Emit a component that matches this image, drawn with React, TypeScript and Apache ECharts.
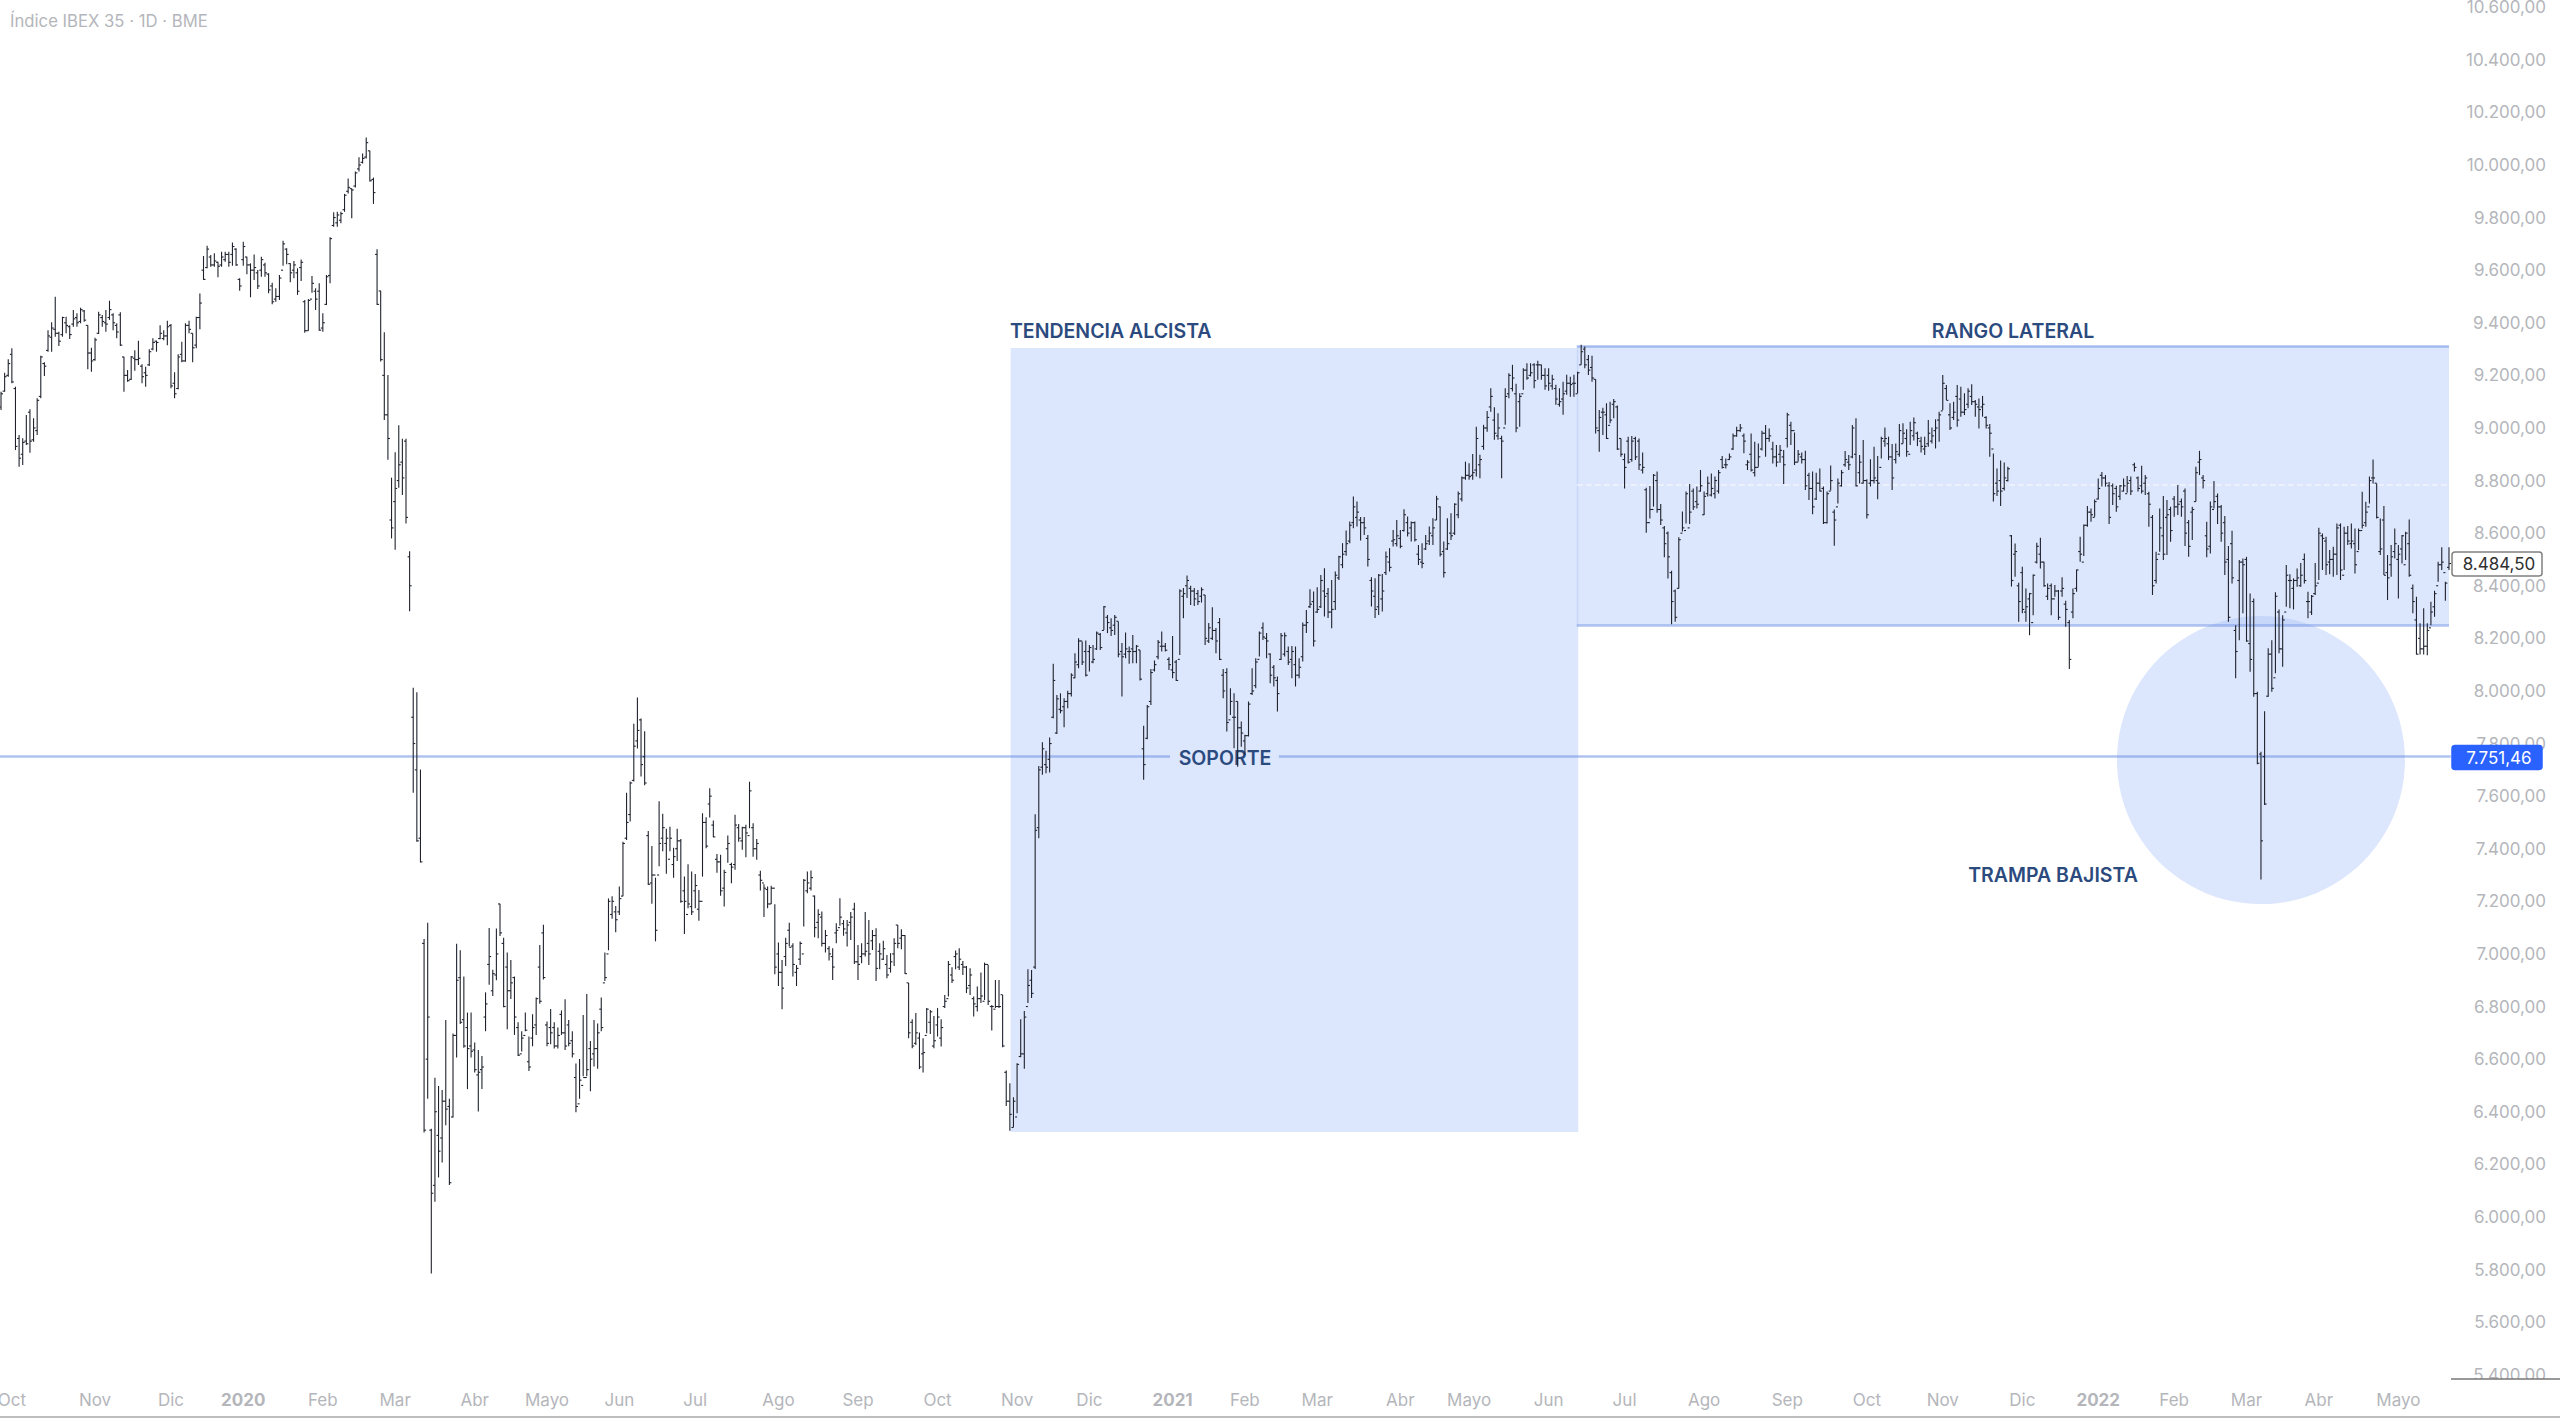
import React, { useEffect, useRef } from "react";
import * as echarts from "echarts";

// daily bars as [open, high, low, close]
const bars2019 = [
  [9080,9138,9068,9130],[9140,9210,9138,9195],[9200,9261,9195,9245],[9280,9303,9170,9175],[9150,9157,8916,8930],[8960,8973,8853,8885],[8900,8961,8859,8945],[8950,9049,8935,8940],[9060,9071,8906,8950],[8955,9037,8948,9000],
  [8990,9113,8973,9105],[9120,9275,9113,9270],[9245,9250,9198,9235],[9295,9372,9290,9350],[9345,9402,9290,9380],[9375,9499,9347,9360],[9360,9366,9312,9330],[9355,9423,9347,9420],[9400,9423,9360,9390],[9385,9391,9338,9355],
  [9395,9449,9385,9415],[9420,9436,9385,9400],[9405,9457,9398,9450],[9445,9449,9404,9410],[9390,9391,9223,9285],[9285,9305,9214,9255],[9260,9343,9256,9335],[9360,9442,9357,9430],[9420,9430,9385,9405],[9400,9449,9366,9395],
  [9420,9484,9411,9450],[9430,9436,9372,9400],[9390,9398,9341,9365],[9430,9440,9312,9315],[9270,9271,9138,9200],[9200,9220,9176,9180],[9185,9274,9182,9270],[9265,9296,9218,9260],[9260,9332,9239,9265],[9235,9242,9170,9195],
  [9210,9233,9157,9200],[9240,9299,9236,9290],[9300,9341,9296,9325],[9330,9332,9290,9325],[9340,9391,9337,9360],[9340,9372,9334,9350],[9350,9408,9315,9385],[9390,9395,9151,9160],[9170,9212,9113,9130],[9150,9280,9147,9270],
  [9280,9328,9250,9255],[9255,9398,9252,9390],[9390,9408,9360,9375],[9360,9360,9250,9305],[9315,9423,9303,9420],[9420,9511,9375,9475],[9600,9654,9563,9565],[9610,9693,9607,9680],[9650,9658,9613,9620],[9620,9664,9613,9635],
  [9630,9632,9573,9615],[9620,9670,9613,9650],[9640,9670,9632,9660],[9660,9670,9613,9630],[9660,9705,9617,9690],[9680,9683,9617,9620],[9565,9569,9522,9540],
];
const barsEarly2020 = [
  [9640,9708,9617,9690],[9650,9651,9585,9620],[9620,9626,9497,9600],[9600,9660,9563,9610],[9590,9601,9528,9540],[9600,9651,9575,9640],[9620,9628,9575,9590],[9585,9588,9512,9525],[9540,9552,9470,9480],[9490,9531,9480,9500],
  [9500,9582,9487,9570],[9600,9712,9617,9700],[9680,9683,9623,9660],[9625,9626,9554,9590],[9600,9635,9569,9620],[9590,9607,9506,9520],[9610,9641,9559,9630],[9480,9487,9362,9370],[9370,9490,9370,9485],[9490,9578,9514,9550],
  [9520,9531,9449,9490],[9520,9550,9370,9372],[9380,9436,9366,9400],[9470,9582,9468,9575],[9580,9725,9550,9720],[9770,9820,9765,9800],[9780,9822,9765,9810],[9790,9822,9778,9815],[9830,9890,9822,9885],[9900,9949,9892,9915],
  [9910,9911,9797,9905],[9920,9975,9914,9970],[9985,10029,9975,10000],[10010,10044,10006,10025],[10030,10105,10025,10085],[10054,10054,9937,9940],[9945,9952,9852,9895],[9660,9680,9468,9470],[9521,9522,9253,9260],[9200,9364,9030,9050],
  [9050,9201,8879,8960],[8650,8811,8580,8620],[8720,8908,8537,8770],[8800,9010,8773,8860],[8870,8959,8745,8810],[8950,8959,8637,8660],[8510,8531,8303,8400],[7900,8012,7613,7800],[7700,7995,7427,7430],[7440,7701,7348,7350],
  [7040,7057,6321,6330],[6600,7119,6449,6760],[6330,6335,5785,6090],[6120,6529,6058,6400],[6310,6498,6150,6250],[6300,6483,6207,6440],[6440,6749,6349,6410],[6420,6449,6121,6130],[6380,6697,6378,6690],[6690,7039,6606,6900],
  [6910,7014,6734,6740],[6750,6914,6643,6650],[6720,6777,6486,6640],[6650,6777,6606,6630],[6635,6663,6549,6560],[6540,6635,6401,6550],[6560,6612,6486,6570],[6760,6854,6706,6810],[6960,7099,6883,6990],[6860,6940,6840,6925],
  [6920,7097,6900,7000],[7190,7191,7068,7080],[7040,7062,6797,6800],[6950,7005,6714,6860],[6860,6977,6829,6890],[6910,6914,6692,6760],[6720,6740,6612,6615],[6620,6706,6629,6680],[6690,6777,6706,6710],[6590,6686,6555,6570],
  [6680,6771,6649,6720],[6730,6834,6692,6830],[6950,7034,6811,6820],[7080,7111,6903,6910],[6730,6743,6649,6660],[6720,6791,6657,6700],[6720,6740,6640,6650],[6650,6720,6640,6690],[6770,6785,6692,6700],[6700,6828,6635,6650],
  [6730,6749,6649,6660],[6670,6706,6606,6620],[6530,6583,6398,6420],[6430,6600,6449,6520],[6500,6768,6535,6530],[6530,6848,6535,6560],[6640,6669,6478,6600],[6620,6749,6572,6640],[6640,6735,6563,6700],[6790,6834,6706,6720],
  [6890,7005,6897,6910],[7000,7211,7014,7200],[7150,7219,7134,7200],[7160,7182,7082,7130],[7160,7256,7148,7210],[7220,7427,7219,7420],[7440,7613,7433,7500],[7530,7656,7504,7650],[7660,7875,7656,7790],[7810,7975,7781,7850],
  [7890,7895,7675,7720],[7750,7847,7641,7650],[7450,7467,7262,7265],[7270,7410,7191,7300],[7300,7290,7048,7090],[7300,7581,7333,7420],[7440,7533,7390,7480],[7420,7476,7305,7440],[7360,7484,7390,7440],[7340,7404,7290,7370],
  [7400,7476,7353,7430],[7430,7437,7195,7200],[7240,7294,7076,7200],[7150,7341,7174,7190],[7180,7313,7148,7160],[7240,7304,7174,7260],
];
const barsLate2020 = [
  [7170,7243,7126,7200],[7200,7535,7294,7500],[7500,7520,7402,7410],[7570,7630,7519,7600],[7490,7507,7444,7445],[7360,7380,7309,7350],[7350,7377,7221,7240],[7250,7320,7180,7310],[7400,7450,7347,7420],[7340,7347,7269,7330],
  [7340,7529,7320,7490],[7480,7494,7427,7440],[7430,7484,7396,7480],[7480,7491,7368,7460],[7450,7655,7478,7620],[7480,7497,7370,7400],[7400,7437,7358,7420],[7300,7316,7241,7280],[7270,7265,7140,7250],[7245,7256,7174,7190],
  [7190,7259,7190,7250],[7250,7189,6923,6950],[7000,7043,6878,6930],[6930,6977,6790,6870],[6990,7062,6954,7040],[7090,7119,7028,7025],[7030,7041,6914,6960],[6930,6958,6878,6945],[6980,7047,6958,7040],[7000,7285,7104,7280],
  [7240,7313,7231,7270],[7250,7317,7241,7290],[7220,7222,7063,7100],[7120,7170,7060,7150],[7140,7161,7028,7040],[7040,7091,7005,7070],[7020,7030,6975,7000],[6990,7022,6901,6950],[7080,7117,7041,7090],[7100,7212,7107,7140],
  [7115,7129,7069,7095],[7080,7129,7028,7110],[7120,7159,7053,7140],[7170,7195,6962,6970],[6970,7034,6901,6960],[6990,7041,6965,7000],[7000,7159,6990,7010],[7040,7129,6958,7000],[7050,7091,7015,7070],[7070,7098,6897,6945],
  [7010,7041,6942,7000],[6980,7050,6977,7020],[6960,6996,6908,6920],[6945,7003,6929,6970],[7000,7060,6954,7040],[7110,7110,7022,7040],[7060,7094,7018,7070],[7070,7072,6924,6925],[6890,6889,6679,6700],[6740,6752,6641,6650],
  [6660,6775,6654,6700],[6680,6701,6562,6570],[6620,6679,6549,6625],[6690,6794,6698,6790],[6740,6787,6696,6780],[6650,6764,6641,6670],[6730,6794,6686,6760],[6680,6752,6648,6720],[6800,6844,6794,6820],[6830,6973,6838,6960],
  [6920,6949,6889,6900],[6990,7013,6942,7000],[6950,7022,6939,6980],[6960,6973,6920,6950],[6950,6954,6851,6870],[6880,6946,6844,6920],[6830,6838,6762,6810],[6800,6876,6781,6830],[6830,6929,6813,6840],[6820,6967,6825,6960],
  [6960,6958,6806,6820],[6800,6806,6709,6800],[6790,6901,6794,6800],[6800,6901,6794,6800],[6845,6844,6645,6650],[6550,6557,6422,6440],[6440,6508,6328,6390],[6340,6455,6341,6440],[6380,6584,6394,6580],[6610,6752,6607,6620],
  [6620,6783,6563,6760],[6800,6942,6813,6880],[6900,6939,6832,6850],[6950,7531,6943,7470],[7480,7715,7440,7700],[7710,7805,7681,7780],[7720,7773,7687,7710],[7740,7823,7690,7800],[7900,8103,7896,8040],[7840,7985,7836,7970],
  [7930,7991,7915,7925],[7940,7972,7862,7960],[7960,8001,7934,7990],[7990,8067,7979,8060],[8050,8143,8048,8110],[8100,8200,8086,8190],[8190,8188,8099,8110],[8150,8192,8055,8060],[8150,8175,8074,8165],[8110,8175,8105,8120],
  [8160,8226,8156,8220],[8215,8220,8156,8165],[8230,8323,8232,8320],[8280,8289,8220,8260],[8240,8276,8209,8230],[8250,8289,8213,8280],[8265,8264,8128,8140],[8150,8182,7979,8130],[8140,8222,8124,8160],[8150,8169,8103,8150],
  [8160,8213,8105,8150],[8150,8175,8105,8170],[8156,8156,8040,8045],
];
const barsEarly2021 = [
  [7780,7868,7662,7720],[7820,7947,7816,7940],[7960,8083,7947,8070],[8080,8116,8074,8100],[8130,8194,8121,8185],[8170,8226,8150,8170],[8170,8182,8150,8155],[8120,8128,8080,8100],[8080,8209,8048,8070],[8110,8118,8038,8040],
  [8120,8387,8137,8380],[8360,8391,8276,8370],[8400,8439,8353,8420],[8390,8400,8327,8380],[8380,8391,8323,8350],[8370,8384,8327,8340],[8360,8394,8336,8385],[8365,8365,8175,8200],[8190,8258,8182,8240],[8200,8318,8194,8230],
  [8230,8239,8143,8190],[8260,8277,8118,8120],[8060,8083,7972,8000],[8070,8086,7846,7880],[7890,8010,7909,7960],[7900,7991,7782,7900],[7960,7960,7712,7860],[7860,7884,7788,7840],[7810,7833,7757,7830],[7830,7960,7827,7950],
  [7990,8086,7985,8000],[8020,8124,8010,8110],[8120,8226,8131,8220],[8240,8260,8194,8205],[8200,8220,8124,8190],[8140,8143,8029,8060],[8090,8099,8017,8050],[8040,8055,7922,7990],[8120,8220,8118,8210],[8140,8222,8131,8210],
  [8150,8169,8099,8110],[8120,8171,8048,8150],[8100,8169,8017,8060],[8060,8124,8048,8090],[8130,8260,8112,8250],[8250,8308,8220,8260],[8320,8387,8315,8330],[8340,8378,8169,8190],[8300,8394,8296,8310],[8320,8441,8315,8420],
  [8380,8467,8283,8360],[8370,8391,8277,8300],[8300,8422,8238,8310],[8340,8454,8308,8440],[8430,8514,8422,8510],[8480,8562,8467,8520],[8530,8610,8514,8560],[8570,8644,8562,8630],[8640,8739,8619,8700],[8660,8720,8625,8680],
  [8650,8661,8572,8640],[8640,8661,8593,8620],[8580,8593,8473,8500],[8420,8432,8321,8380],[8360,8429,8277,8310],[8320,8445,8289,8440],[8350,8445,8302,8380],[8450,8530,8441,8510],[8490,8543,8454,8470],[8570,8612,8549,8575],
  [8560,8650,8549,8590],[8580,8612,8543,8550],[8610,8691,8606,8670],[8640,8663,8587,8600],[8620,8644,8568,8640],[8640,8644,8568,8575],[8520,8555,8479,8500],[8490,8562,8467,8485],[8540,8593,8536,8560],[8570,8625,8555,8600],
  [8590,8657,8555,8620],[8650,8742,8650,8730],[8700,8701,8511,8520],[8530,8568,8431,8450],[8540,8657,8536,8560],[8600,8676,8574,8590],[8600,8714,8593,8710],[8670,8758,8657,8750],[8730,8815,8720,8810],[8810,8872,8803,8820],
  [8820,8866,8803,8815],[8820,8901,8803,8830],[8840,9005,8815,8960],[8860,8898,8809,8880],[8930,9012,8917,9000],[9000,9065,8986,9040],[9080,9151,9062,9120],[9030,9079,8955,8980],[8970,9056,8955,9000],[8960,8970,8809,8950],
  [9000,9151,9012,9120],[9130,9208,9113,9200],[9150,9240,9139,9190],[9130,9168,8984,9000],[9100,9132,9005,9120],[9130,9227,9145,9220],[9220,9246,9183,9190],[9200,9246,9196,9210],[9240,9246,9151,9180],[9240,9256,9183,9240],
  [9240,9240,9183,9200],[9200,9227,9145,9160],[9200,9227,9142,9170],[9160,9202,9145,9185],[9150,9164,9088,9110],[9090,9151,9081,9100],[9110,9176,9050,9130],[9140,9202,9126,9170],[9170,9195,9119,9165],[9170,9202,9119,9170],
  [9130,9214,9132,9210],[9240,9316,9240,9290],[9300,9310,9227,9240],[9260,9277,9201,9220],[9230,9275,9176,9190],[9185,9185,8979,9000],[8990,9068,8910,9040],[9060,9077,8973,9060],[9050,9094,8958,8960],[9010,9100,9018,9030],
  [9090,9110,9037,9100],[9080,9085,8916,8920],[8960,8960,8891,8900],[8880,8903,8770,8850],
];
const barsLate2021 = [
  [8950,8967,8865,8870],[8880,8969,8872,8950],[8960,8967,8878,8890],[8950,8960,8840,8860],[8840,8907,8827,8850],[8765,8773,8602,8640],[8640,8779,8656,8690],[8690,8825,8701,8820],[8800,8834,8678,8690],[8690,8711,8631,8650],
  [8620,8627,8508,8560],[8600,8606,8428,8510],[8450,8457,8254,8340],[8380,8386,8263,8280],[8390,8584,8390,8575],[8600,8682,8606,8620],[8610,8758,8637,8750],[8620,8787,8635,8680],[8760,8770,8688,8700],[8720,8777,8694,8710],
  [8760,8840,8758,8780],[8670,8758,8669,8740],[8750,8815,8739,8790],[8745,8827,8739,8770],[8750,8815,8732,8800],[8760,8840,8751,8830],[8880,8893,8846,8850],[8860,8884,8846,8860],[8880,8903,8878,8890],[8920,8979,8916,8970],
  [8970,9005,8967,8990],[8990,9015,8986,9000],[8970,8979,8904,8950],[8860,8878,8840,8870],[8900,8979,8834,8840],[8830,8948,8815,8850],[8850,8941,8853,8890],[8920,8989,8914,8980],[8980,9011,8891,8960],[8960,8998,8948,8970],
  [8920,8948,8865,8890],[8890,8935,8853,8870],[8900,8935,8868,8915],[8890,8916,8787,8860],[8960,9058,8926,9050],[9010,9024,8935,8990],[8990,8983,8859,8870],[8870,8916,8872,8900],[8890,8907,8865,8880],[8880,8913,8764,8780],
  [8820,8830,8726,8770],[8770,8834,8672,8700],[8730,8830,8726,8790],[8790,8846,8758,8760],[8770,8777,8635,8640],[8640,8758,8637,8750],[8760,8857,8762,8800],[8680,8690,8552,8650],[8700,8808,8713,8790],[8780,8840,8777,8830],
  [8860,8912,8853,8880],[8870,8897,8840,8860],[8890,9011,8885,9000],[8900,9037,8777,8780],[8830,8897,8789,8870],[8790,8954,8789,8800],[8800,8805,8656,8670],[8790,8881,8777,8800],[8800,8929,8789,8810],[8800,8893,8729,8790],
  [8850,8967,8884,8960],[8950,9002,8929,8960],[8940,8967,8878,8890],[8890,8939,8764,8810],[8880,8941,8865,8910],[8900,9015,8891,8990],[8940,9018,8941,8980],[8960,8995,8891,8910],[8900,9024,8935,8990],[8970,9040,8952,9020],
  [8980,8986,8931,8960],[8950,8967,8907,8930],[8920,8967,8897,8930],[8940,9030,8929,8980],[8950,9002,8941,8970],[8990,9033,8922,9000],[9030,9062,8948,9050],[9065,9201,9068,9170],[9150,9163,9106,9105],[9050,9094,8992,9000],
  [9040,9100,9030,9060],[9120,9163,9005,9030],[9110,9157,9043,9060],[9060,9132,9049,9070],[9090,9151,9075,9140],[9120,9166,9087,9100],[9100,9106,9043,9090],[9080,9112,8998,9070],[9080,9122,9043,9090],[9040,9045,8998,9010],
  [9000,9015,8891,8980],[8920,8903,8720,8750],[8790,8846,8741,8760],[8800,8876,8703,8760],[8770,8869,8762,8810],[8800,8853,8796,8845],[8590,8593,8397,8420],[8520,8561,8434,8530],[8400,8411,8263,8340],[8450,8472,8295,8310],
  [8300,8390,8263,8320],[8350,8373,8212,8370],[8260,8443,8288,8440],[8490,8564,8485,8550],[8520,8583,8466,8490],[8490,8491,8396,8400],[8360,8409,8346,8390],[8400,8409,8288,8350],[8350,8403,8358,8380],[8380,8384,8270,8280],
  [8380,8432,8358,8390],[8330,8343,8244,8310],[8260,8270,8083,8120],[8300,8390,8276,8370],[8390,8462,8377,8460],[8530,8586,8491,8520],[8490,8633,8513,8630],[8630,8703,8624,8680],[8680,8694,8643,8670],[8660,8728,8662,8720],
];
const bars2022 = [
  [8730,8808,8728,8770],[8820,8833,8777,8810],[8810,8821,8777,8790],[8780,8795,8635,8660],[8780,8789,8707,8750],[8770,8780,8681,8700],[8740,8783,8726,8780],[8760,8808,8758,8780],[8750,8817,8754,8790],[8800,8815,8745,8760],
  [8860,8868,8834,8850],[8810,8815,8758,8770],[8780,8856,8751,8760],[8790,8821,8745,8810],[8750,8757,8624,8710],[8660,8669,8365,8400],[8420,8529,8409,8500],[8520,8694,8529,8620],[8590,8741,8498,8520],[8660,8726,8517,8670],
  [8690,8700,8567,8610],[8730,8741,8662,8700],[8700,8783,8669,8710],[8720,8732,8662,8700],[8760,8770,8551,8600],[8640,8650,8510,8550],[8680,8700,8574,8690],[8720,8853,8720,8830],[8870,8913,8821,8880],[8810,8821,8770,8800],
  [8590,8643,8508,8540],[8550,8720,8523,8700],[8690,8798,8694,8720],[8740,8751,8635,8700],[8700,8707,8567,8600],[8640,8665,8441,8490],[8500,8551,8263,8280],[8560,8609,8409,8430],[8230,8250,8048,8150],[8420,8498,8193,8490],
  [8490,8504,8295,8480],[8500,8510,8187,8190],[8180,8371,8073,8120],[8340,8352,7978,7990],[7990,7997,7721,7725],[7760,7769,7283,7430],[7750,7923,7566,7570],[7980,8162,7978,8140],[8140,8193,7997,8010],[8050,8375,8067,8360],
  [8300,8310,8143,8160],[8160,8288,8092,8270],[8300,8479,8320,8440],[8420,8444,8314,8420],[8390,8428,8310,8420],[8420,8466,8396,8430],[8400,8487,8396,8440],[8500,8523,8409,8420],[8340,8377,8276,8340],[8300,8365,8289,8360],
  [8370,8487,8365,8400],[8410,8621,8422,8600],[8590,8599,8460,8580],[8570,8586,8441,8480],[8490,8536,8444,8500],[8500,8548,8434,8520],[8520,8637,8441,8620],[8630,8637,8422,8460],[8440,8624,8460,8600],[8600,8627,8555,8570],
  [8560,8637,8542,8570],[8560,8618,8447,8480],[8530,8618,8536,8610],[8610,8757,8618,8630],[8640,8719,8624,8680],[8700,8815,8713,8800],[8810,8880,8789,8810],[8790,8789,8656,8660],[8530,8656,8517,8540],[8650,8703,8441,8440],
  [8450,8517,8346,8430],[8480,8555,8434,8510],[8530,8618,8504,8560],[8500,8555,8352,8520],[8540,8593,8485,8590],[8480,8605,8498,8600],[8560,8652,8434,8440],[8390,8405,8295,8340],[8270,8358,8139,8140],[8200,8257,8139,8160],
  [8160,8314,8139,8170],[8170,8257,8136,8230],[8240,8339,8250,8300],[8320,8381,8282,8370],[8400,8491,8415,8480],[8480,8546,8460,8490],[8450,8415,8343,8410],[8470,8546,8460,8484.5],
];

const barRows = [...bars2019, ...barsEarly2020, ...barsLate2020, ...barsEarly2021, ...barsLate2021, ...bars2022];

// month labels sit on the bar where the month starts
const monthTicks = [3,26,47,67,89,109,131,151,171,192,215,237,259,281,301,324,344,364,387,406,428,449,471,494,516,537,559,580,601,621,641,663];
const monthNames = ["Oct","Nov","Dic","2020","Feb","Mar","Abr","Mayo","Jun","Jul","Ago","Sep","Oct","Nov","Dic","2021","Feb","Mar","Abr","Mayo","Jun","Jul","Ago","Sep","Oct","Nov","Dic","2022","Feb","Mar","Abr","Mayo"];

const lastPrice = 8484.5;
const supportPrice = 7751.46;
const rangeTop = 9312;
const rangeBottom = 8251;
const rangeMid = 8783;
const trendTop = 9304;
const trendBottom = 6323;
const trendFrom = 279.2;
const trendTo = 436.2;
const rangeFrom = 435.8;
const rangeTo = 677;
const supportGapFrom = 323.3;
const supportGapTo = 353.4;
const supportEnd = 677.5;
const trapBar = 625;
const trapPrice = 7737;
const xMin = -0.28;
const xMax = 707.7;

const FILL = "rgba(168,192,248,0.4)";
const RULE = "rgba(110,145,228,0.55)";
const NAVY = "#2b4a7e";
const GREY = "#b4b6bb";
const FONT = "Inter, 'Noto Sans', sans-serif";

const formatPrice = (v: number) =>
  v.toLocaleString("de-DE", { minimumFractionDigits: 2, maximumFractionDigits: 2 });

const renderBar = (_params: any, api: any) => {
  const x = api.value(0);
  const [cx, high] = api.coord([x, api.value(2)]);
  const low = api.coord([x, api.value(3)])[1];
  const open = api.coord([x, api.value(1)])[1];
  const close = api.coord([x, api.value(4)])[1];
  const style = { stroke: "#20232e", lineWidth: 1.1 };
  return {
    type: "group",
    children: [
      { type: "line", shape: { x1: cx, y1: high, x2: cx, y2: low }, style },
      { type: "line", shape: { x1: cx - 2, y1: open, x2: cx, y2: open }, style },
      { type: "line", shape: { x1: cx, y1: close, x2: cx + 2, y2: close }, style },
    ],
  };
};

const rule = (x1: number, y1: number, x2: number, y2: number, color = RULE, width = 2.5, type = "solid") => [
  { coord: [x1, y1], lineStyle: { color, width, type } },
  { coord: [x2, y2] },
];

const note = (text: string, x: number, y: number, align = "left") => ({
  type: "text",
  z: 3,
  x,
  y,
  style: { text, fill: NAVY, font: `600 19.5px ${FONT}`, textAlign: align, textVerticalAlign: "middle" },
});

const priceTag = (text: string, y: number, fill: string, stroke: string, color: string) => [
  {
    type: "rect",
    z: 20,
    shape: { x: 2452, y, width: 90, height: 24, r: 3 },
    style: { fill, stroke, lineWidth: 1.5 },
  },
  {
    type: "text",
    z: 21,
    x: 2499,
    y: y + 12,
    style: { text, fill: color, font: `17px ${FONT}`, textAlign: "center", textVerticalAlign: "middle" },
  },
];

const App = () => {
  const chartRef = useRef(null);

  useEffect(() => {
    const chartInstance = echarts.init(chartRef.current, null, { renderer: "svg" });

    chartInstance.setOption({
      animation: false,
      backgroundColor: "#ffffff",
      grid: { left: 0, right: 0, top: 7.2, bottom: 43.3, containLabel: false, outerBoundsMode: "none" },
      xAxis: {
        type: "value",
        min: xMin,
        max: xMax,
        offset: 42.3,
        splitLine: { show: false },
        axisTick: { show: false },
        axisLine: { show: true, onZero: false, lineStyle: { color: "#a9a9a9", width: 1.5 } },
        axisLabel: {
          inside: true,
          margin: 9,
          customValues: monthTicks,
          hideOverlap: false,
          color: GREY,
          fontFamily: FONT,
          fontSize: 17,
          formatter: (v: number) => {
            const name = monthNames[monthTicks.indexOf(v)];
            return /^\d+$/.test(name) ? `{year|${name}}` : name;
          },
          rich: { year: { fontFamily: FONT, fontSize: 17, fontWeight: 700, color: GREY } },
        },
      },
      yAxis: {
        type: "value",
        position: "right",
        min: 5400,
        max: 10600,
        interval: 200,
        splitLine: { show: false },
        axisTick: { show: false },
        axisLine: { show: false },
        axisLabel: {
          inside: true,
          margin: 14,
          color: GREY,
          fontFamily: FONT,
          fontSize: 17,
          padding: [0, 0, 3.4, 0],
          showMinLabel: true,
          showMaxLabel: true,
          formatter: (v: number) => formatPrice(v),
        },
      },
      graphic: [
        {
          type: "text",
          z: 3,
          x: 10,
          y: 21,
          style: { text: "Índice IBEX 35 · 1D · BME", fill: GREY, font: `16.7px ${FONT}`, textVerticalAlign: "middle" },
        },
        note("TENDENCIA ALCISTA", 1010, 331),
        note("RANGO LATERAL", 2013, 331, "center"),
        note("SOPORTE", 1225, 758, "center"),
        note("TRAMPA BAJISTA", 2053, 875, "center"),
        { type: "rect", z: 18, shape: { x: 2451, y: 1379, width: 109, height: 9 }, style: { fill: "#ffffff" } },
        { type: "line", z: 19, shape: { x1: 2451, y1: 1379, x2: 2560, y2: 1379 }, style: { stroke: "#777777", lineWidth: 1.5 } },
        ...priceTag(formatPrice(lastPrice), 552, "#ffffff", "#808080", "#303030"),
        ...priceTag(formatPrice(supportPrice), 745.5, "#2962ff", "#2962ff", "#ffffff"),
      ],
      series: [
        {
          type: "custom",
          z: 10,
          silent: true,
          clip: false,
          encode: { x: 0, y: [1, 2, 3, 4] },
          data: barRows.map((row, i) => [i, ...row]),
          renderItem: renderBar,
          markArea: {
            silent: true,
            z: 1,
            itemStyle: { color: FILL },
            data: [
              [{ coord: [trendFrom, trendTop] }, { coord: [trendTo, trendBottom] }],
              [{ coord: [rangeFrom, rangeTop] }, { coord: [rangeTo, rangeBottom] }],
            ],
          },
          markPoint: {
            silent: true,
            z: 1,
            symbol: "circle",
            symbolSize: 288,
            itemStyle: { color: FILL },
            label: { show: false },
            data: [{ coord: [trapBar, trapPrice] }],
          },
          markLine: {
            silent: true,
            z: 2,
            symbol: "none",
            label: { show: false },
            data: [
              rule(xMin, supportPrice, supportGapFrom, supportPrice),
              rule(supportGapTo, supportPrice, supportEnd, supportPrice),
              rule(rangeFrom, rangeTop, rangeTo, rangeTop),
              rule(rangeFrom, rangeBottom, rangeTo, rangeBottom),
              rule(rangeFrom, rangeMid, rangeTo, rangeMid, "rgba(255,255,255,0.6)", 1.5, "dashed"),
            ],
          },
        },
      ],
    });

    return () => {
      chartInstance.dispose();
    };
  }, []);

  return <div ref={chartRef} style={{ position: "fixed", left: 0, top: 0, width: "100vw", height: "100vh" }} />;
};

export default App;
